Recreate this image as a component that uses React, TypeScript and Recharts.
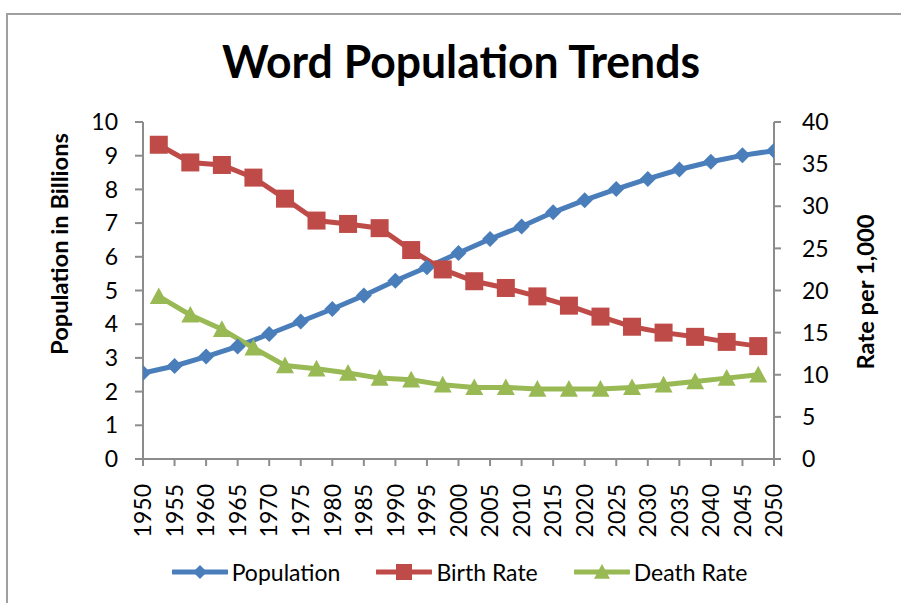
import React from 'react';
import { LineChart, Line, XAxis, YAxis, Legend } from 'recharts';

// Population (billions) at five-year marks
const popYears = [1950, 1955, 1960, 1965, 1970, 1975, 1980, 1985, 1990, 1995, 2000, 2005, 2010, 2015, 2020, 2025, 2030, 2035, 2040, 2045, 2050];
const population = [2.55, 2.76, 3.04, 3.34, 3.71, 4.08, 4.45, 4.85, 5.29, 5.69, 6.11, 6.53, 6.9, 7.32, 7.68, 8.01, 8.31, 8.59, 8.82, 9.01, 9.15];

// Birth / death rates (per 1,000) at mid-period points
const rateYears = [1952.5, 1957.5, 1962.5, 1967.5, 1972.5, 1977.5, 1982.5, 1987.5, 1992.5, 1997.5, 2002.5, 2007.5, 2012.5, 2017.5, 2022.5, 2027.5, 2032.5, 2037.5, 2042.5, 2047.5];
const birthRate = [37.3, 35.2, 34.9, 33.4, 30.9, 28.3, 27.9, 27.4, 24.8, 22.5, 21.1, 20.3, 19.3, 18.2, 16.9, 15.7, 15.0, 14.5, 13.9, 13.4];
const deathRate = [19.3, 17.1, 15.4, 13.2, 11.1, 10.7, 10.2, 9.6, 9.4, 8.8, 8.5, 8.5, 8.3, 8.3, 8.3, 8.5, 8.8, 9.2, 9.6, 10.0];

const xTicks = popYears;
const leftTicks = [0, 1, 2, 3, 4, 5, 6, 7, 8, 9, 10];
const rightTicks = [0, 5, 10, 15, 20, 25, 30, 35, 40];

const BLUE = '#4A7EBB';
const RED = '#BE4B48';
const GREEN = '#98B954';
const AXIS = '#8C8C8C';
const FONT = 'Lato, "Open Sans", sans-serif';

const popData = popYears.map((year, i) => ({ year, value: population[i] }));
const birthData = rateYears.map((year, i) => ({ year, value: birthRate[i] }));
const deathData = rateYears.map((year, i) => ({ year, value: deathRate[i] }));

const Diamond = ({ cx, cy, r = 8, color = BLUE }: any) =>
  cx == null ? null : (
    <path d={`M${cx},${cy - r}L${cx + r},${cy}L${cx},${cy + r}L${cx - r},${cy}Z`} fill={color} />
  );
const Square = ({ cx, cy, r = 9, color = RED }: any) =>
  cx == null ? null : <rect x={cx - r} y={cy - r} width={2 * r} height={2 * r} fill={color} />;
const Triangle = ({ cx, cy, r = 9, color = GREEN }: any) =>
  cx == null ? null : (
    <path d={`M${cx},${cy - r}L${cx + r},${cy + r * 0.85}L${cx - r},${cy + r * 0.85}Z`} fill={color} />
  );

const XTick = ({ x, y, payload }: any) => (
  <text
    x={x}
    y={y}
    transform={`rotate(-90, ${x}, ${y})`}
    textAnchor="end"
    dy="0.36em"
    fontSize={23}
    fontFamily={FONT}
    fill="#000"
  >
    {payload.value}
  </text>
);

const legendItems = [
  { name: 'Population', color: BLUE, Marker: Diamond, r: 7 },
  { name: 'Birth Rate', color: RED, Marker: Square, r: 8 },
  { name: 'Death Rate', color: GREEN, Marker: Triangle, r: 8 },
];

const LegendContent = () => (
  <div
    style={{
      display: 'flex',
      justifyContent: 'center',
      alignItems: 'center',
      height: 40,
      paddingLeft: 18,
      fontFamily: FONT,
      fontSize: 23,
      color: '#000',
    }}
  >
    {legendItems.map(({ name, color, Marker, r }, i) => (
      <div key={name} style={{ display: 'flex', alignItems: 'center', marginLeft: i === 0 ? 0 : 36 }}>
        <svg width={56} height={20} style={{ display: 'block' }}>
          <line x1={1} y1={10} x2={55} y2={10} stroke={color} strokeWidth={5} strokeLinecap="round" />
          <Marker cx={28} cy={10} r={r} color={color} />
        </svg>
        <span style={{ marginLeft: 4 }}>{name}</span>
      </div>
    ))}
  </div>
);

export default function App() {
  return (
    <div style={{ position: 'absolute', left: 0, top: 0, width: 901, height: 603, overflow: 'hidden', background: '#fff' }}>
      <div
        style={{
          position: 'absolute',
          left: 6,
          top: 13,
          width: 1000,
          height: 1000,
          border: '2px solid #A0A0A0',
        }}
      />
      <svg width={901} height={603} style={{ position: 'absolute', left: 0, top: 0 }}>
        <text
          x={461}
          y={78}
          textAnchor="middle"
          fontFamily={FONT}
          fontWeight={700}
          fontSize={45}
          textLength={478}
          lengthAdjust="spacingAndGlyphs"
          fill="#000"
        >
          Word Population Trends
        </text>
        <text
          transform="translate(68, 244) rotate(-90)"
          textAnchor="middle"
          fontFamily={FONT}
          fontWeight={700}
          fontSize={22}
          textLength={222}
          lengthAdjust="spacingAndGlyphs"
          fill="#000"
        >
          Population in Billions
        </text>
        <text
          transform="translate(874, 292) rotate(-90)"
          textAnchor="middle"
          fontFamily={FONT}
          fontWeight={700}
          fontSize={22}
          textLength={155}
          lengthAdjust="spacingAndGlyphs"
          fill="#000"
        >
          Rate per 1,000
        </text>
      </svg>
      <div style={{ position: 'absolute', left: 0, top: 0 }}>
        <LineChart width={901} height={603} margin={{ top: 122, right: 0, bottom: 11, left: 0 }}>
          <XAxis
            xAxisId="x"
            dataKey="year"
            type="number"
            domain={[1950, 2050]}
            ticks={xTicks}
            interval={0}
            allowDataOverflow
            height={93}
            tickSize={7}
            tickMargin={18}
            tick={<XTick />}
            axisLine={{ stroke: AXIS, strokeWidth: 2 }}
            tickLine={{ stroke: AXIS, strokeWidth: 2 }}
          />
          <YAxis
            yAxisId="pop"
            orientation="left"
            domain={[0, 10]}
            ticks={leftTicks}
            interval={0}
            width={143}
            tickSize={8}
            tickMargin={17}
            tick={{ fill: '#000', fontSize: 23, fontFamily: FONT }}
            axisLine={{ stroke: AXIS, strokeWidth: 2 }}
            tickLine={{ stroke: AXIS, strokeWidth: 2 }}
          />
          <YAxis
            yAxisId="rate"
            orientation="right"
            domain={[0, 40]}
            ticks={rightTicks}
            interval={0}
            width={127}
            tickSize={7}
            tickMargin={21}
            tick={{ fill: '#000', fontSize: 23, fontFamily: FONT, textAnchor: 'start' }}
            axisLine={{ stroke: AXIS, strokeWidth: 2 }}
            tickLine={{ stroke: AXIS, strokeWidth: 2 }}
          />
          <Legend verticalAlign="bottom" height={40} content={<LegendContent />} />
          <Line
            xAxisId="x"
            yAxisId="pop"
            data={popData}
            dataKey="value"
            name="Population"
            stroke={BLUE}
            strokeWidth={5}
            dot={(p: any) => <Diamond key={p.index} cx={p.cx} cy={p.cy} r={8} color={BLUE} />}
            activeDot={false}
            isAnimationActive={false}
          />
          <Line
            xAxisId="x"
            yAxisId="rate"
            data={birthData}
            dataKey="value"
            name="Birth Rate"
            stroke={RED}
            strokeWidth={5}
            dot={(p: any) => <Square key={p.index} cx={p.cx} cy={p.cy} r={9} color={RED} />}
            activeDot={false}
            isAnimationActive={false}
          />
          <Line
            xAxisId="x"
            yAxisId="rate"
            data={deathData}
            dataKey="value"
            name="Death Rate"
            stroke={GREEN}
            strokeWidth={5}
            dot={(p: any) => <Triangle key={p.index} cx={p.cx} cy={p.cy} r={9} color={GREEN} />}
            activeDot={false}
            isAnimationActive={false}
          />
        </LineChart>
      </div>
    </div>
  );
}
